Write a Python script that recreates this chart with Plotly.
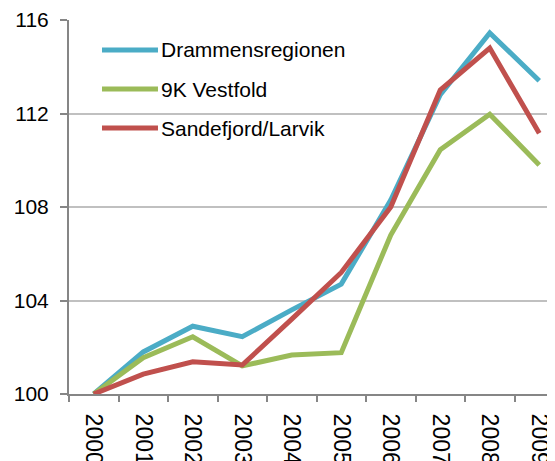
import plotly.graph_objects as go

years = ["2000", "2001", "2002", "2003", "2004", "2005", "2006", "2007", "2008", "2009"]
drammen = [100, 101.8, 102.9, 102.45, 103.6, 104.7, 108.3, 112.8, 115.45, 113.4]
vestfold = [100, 101.55, 102.45, 101.2, 101.67, 101.77, 106.8, 110.45, 111.97, 109.8]
sandefjord = [100, 100.85, 101.38, 101.24, 103.2, 105.2, 108.0, 113.0, 114.8, 111.15]

names = ["Drammensregionen", "9K Vestfold", "Sandefjord/Larvik"]
colors = ["#4BACC6", "#9BBB59", "#C0504D"]
series = [drammen, vestfold, sandefjord]

fig = go.Figure()
for name, col, vals in zip(names, colors, series):
    fig.add_trace(go.Scatter(x=years, y=vals, name=name, mode="lines",
                             line=dict(color=col, width=5), showlegend=False))

# hand-drawn legend (long line keys like the original)
ys = [0.9198, 0.8155, 0.7112]
for name, col, y in zip(names, colors, ys):
    fig.add_shape(type="line", xref="paper", yref="paper", x0=0.0679, x1=0.1831,
                  y0=y, y1=y, line=dict(color=col, width=5))
    fig.add_annotation(xref="paper", yref="paper", x=0.1852, y=y, text=name,
                       showarrow=False, xanchor="left", yanchor="middle",
                       font=dict(size=21, color="black"))

# page body adds 8px margin, so the figure is a bit smaller than the window
fig.update_layout(
    width=547, height=453,
    margin=dict(l=61, r=0, t=12, b=67),
    plot_bgcolor="white", paper_bgcolor="white",
    font=dict(family="Liberation Sans, Arial", size=21, color="black"),
)
fig.update_xaxes(type="category", range=[-0.5, 9.318], tickangle=90,
                 showline=True, linecolor="#868686", linewidth=2,
                 ticks="outside", tickson="boundaries", ticklen=6,
                 tickcolor="#868686", tickwidth=2, showgrid=False,
                 tickfont=dict(size=23), ticklabelstandoff=13, automargin=False)
fig.update_yaxes(range=[100, 116], dtick=4, showgrid=True, gridcolor="#c0c0c0",
                 gridwidth=2, showline=True, linecolor="#868686", linewidth=2,
                 ticks="outside", ticklen=7, tickcolor="#868686", tickwidth=2,
                 zeroline=False, ticklabelstandoff=7, automargin=False)

fig.write_html("out.html")
